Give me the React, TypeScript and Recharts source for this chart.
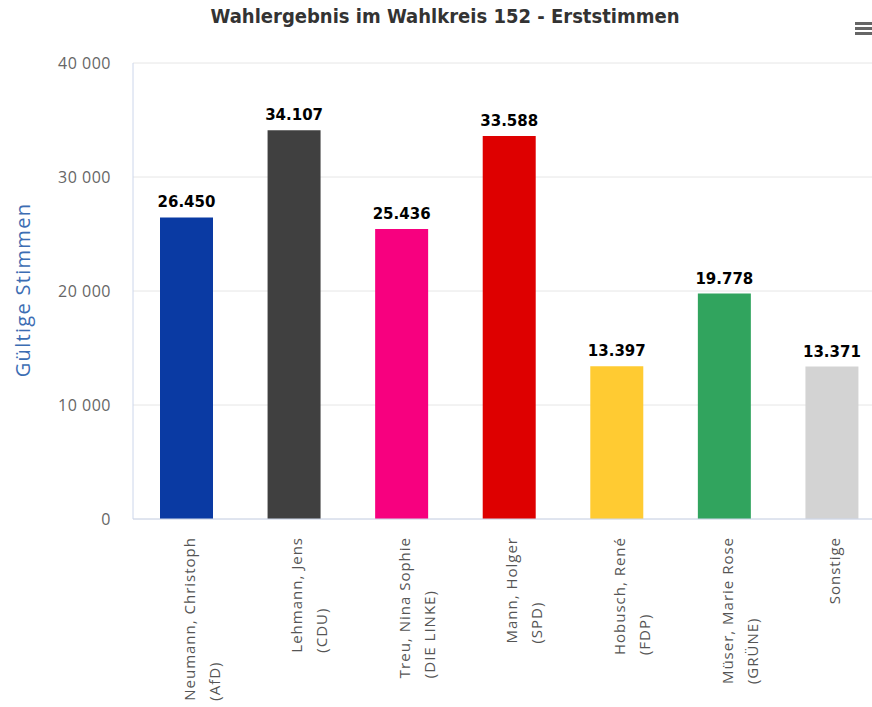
import React from "react";
import { BarChart, Bar, XAxis, YAxis, CartesianGrid, Cell, LabelList, Label } from "recharts";

const candidates = [
  "Neumann, Christoph",
  "Lehmann, Jens",
  "Treu, Nina Sophie",
  "Mann, Holger",
  "Hobusch, René",
  "Müser, Marie Rose",
  "Sonstige",
];
const parties = ["(AfD)", "(CDU)", "(DIE LINKE)", "(SPD)", "(FDP)", "(GRÜNE)", ""];
const votes = [26450, 34107, 25436, 33588, 13397, 19778, 13371];
const colors = ["#0a3aa3", "#404040", "#f7007f", "#de0000", "#ffcb32", "#31a45e", "#d3d3d3"];
const yTicks = [0, 10000, 20000, 30000, 40000];

const data = candidates.map((c, i) => ({ name: c, party: parties[i], value: votes[i] }));

const X_FONT_SIZE = 15;
const X_FONT_FAMILY = '"Open Sans", sans-serif';
const X_LETTER = 1.0;

let ctx: CanvasRenderingContext2D | null = null;
function measure(text: string): number {
  if (!ctx) ctx = document.createElement("canvas").getContext("2d");
  if (!ctx) return text.length * 8;
  ctx.font = `${X_FONT_SIZE}px "Open Sans"`;
  return ctx.measureText(text).width + text.length * X_LETTER;
}

const XTick = (props: any) => {
  const { x, y, payload } = props;
  const idx = payload.index;
  const lines = [candidates[idx], parties[idx]].filter((s) => s);
  const L = Math.max(...lines.map(measure));
  const startY = y + 10 + L;
  return (
    <g>
      {lines.map((ln, i) => {
        const lx = x + 2 + i * 25;
        return (
          <text
            key={i}
            x={lx}
            y={startY}
            transform={`rotate(-90, ${lx}, ${startY})`}
            textAnchor="start"
            dominantBaseline="central"
            fontSize={X_FONT_SIZE}
            fontFamily={X_FONT_FAMILY}
            letterSpacing={X_LETTER}
            fill="#555"
          >
            {ln}
          </text>
        );
      })}
    </g>
  );
};

const fmtY = (v: number) => (v === 0 ? "0" : `${Math.floor(v / 1000)} ${String(v % 1000).padStart(3, "0")}`);
const fmtLabel = (v: number) => `${Math.floor(v / 1000)}.${String(v % 1000).padStart(3, "0")}`;

export default function App() {
  return (
    <div
      style={{
        position: "absolute",
        left: 0,
        top: 0,
        width: 872,
        height: 707,
        overflow: "hidden",
        background: "#fff",
      }}
    >
      <div
        style={{
          position: "absolute",
          left: 0,
          top: 4,
          width: 890,
          textAlign: "center",
          fontFamily: '"DejaVu Sans Condensed", sans-serif',
          fontWeight: "bold",
          fontSize: 20,
          color: "#333",
          zIndex: 2,
        }}
      >
        Wahlergebnis im Wahlkreis 152 - Erststimmen
      </div>
      <div style={{ position: "absolute", left: 855, top: 22, width: 17, zIndex: 2 }}>
        {[0, 5, 10].map((t) => (
          <div key={t} style={{ position: "absolute", top: t, left: 0, width: 17, height: 3, background: "#666" }} />
        ))}
      </div>
      <BarChart
        width={900}
        height={707}
        data={data}
        margin={{ top: 63, right: 14, left: 0, bottom: 0 }}
        barSize={53}
      >
        <CartesianGrid vertical={false} stroke="#e6e6e6" />
        <XAxis
          dataKey="name"
          height={188}
          interval={0}
          tickLine={false}
          axisLine={{ stroke: "#ccd6eb" }}
          tick={<XTick />}
        />
        <YAxis
          width={133}
          domain={[0, 40000]}
          ticks={yTicks}
          tickFormatter={fmtY}
          tickLine={false}
          tickSize={0}
          tickMargin={22}
          axisLine={{ stroke: "#ccd6eb" }}
          tick={{ fill: "#666", fontSize: 16, fontFamily: '"Open Sans", sans-serif', letterSpacing: 0.5 }}
        >
          <Label
            content={() => (
              <text
                x={22}
                y={290}
                transform="rotate(-90, 22, 290)"
                textAnchor="middle"
                dominantBaseline="central"
                fontSize={20}
                fontFamily='"Open Sans", sans-serif'
                letterSpacing={1.3}
                fill="#3c6db3"
              >
                Gültige Stimmen
              </text>
            )}
          />
        </YAxis>
        <Bar dataKey="value" isAnimationActive={false}>
          {data.map((d, i) => (
            <Cell key={i} fill={colors[i]} />
          ))}
          <LabelList
            dataKey="value"
            position="top"
            offset={10}
            formatter={(v: any) => fmtLabel(Number(v))}
            style={{ fontWeight: "bold", fontSize: 15, fontFamily: '"DejaVu Sans", sans-serif', fill: "#000" }}
          />
        </Bar>
      </BarChart>
    </div>
  );
}
